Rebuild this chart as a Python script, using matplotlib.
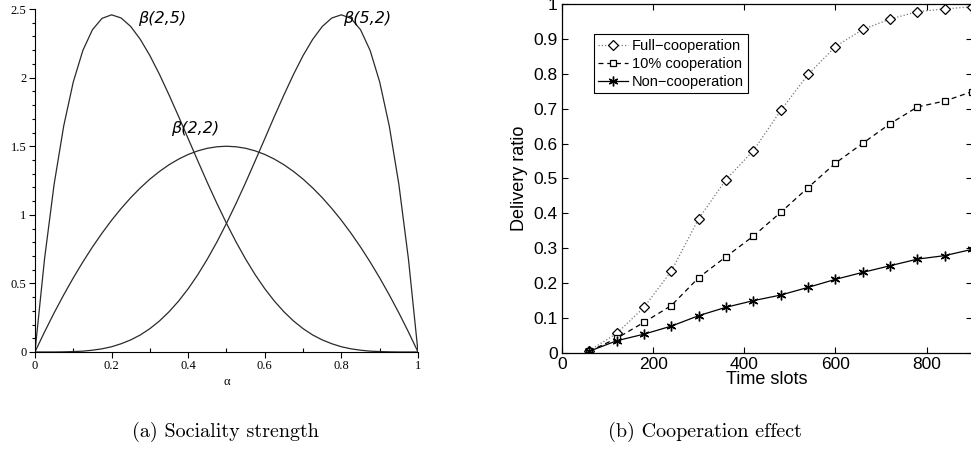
import matplotlib
matplotlib.use("Agg")

import matplotlib.pyplot as plt


# left panel: beta densities
alpha = [
    0.0, 0.025, 0.05, 0.075, 0.1, 0.125, 0.15, 0.175, 0.2, 0.225,
    0.25, 0.275, 0.3, 0.325, 0.35, 0.375, 0.4, 0.425, 0.45, 0.475,
    0.5, 0.525, 0.55, 0.575, 0.6, 0.625, 0.65, 0.675, 0.7, 0.725,
    0.75, 0.775, 0.8, 0.825, 0.85, 0.875, 0.9, 0.925, 0.95, 0.975, 1.0
]
beta_2_5 = [
    0.0, 0.678, 1.222, 1.647, 1.968, 2.198, 2.349, 2.432, 2.458, 2.435,
    2.373, 2.279, 2.161, 2.024, 1.874, 1.717, 1.555, 1.394, 1.235, 1.083,
    0.938, 0.802, 0.677, 0.563, 0.461, 0.371, 0.293, 0.226, 0.170, 0.124,
    0.088, 0.060, 0.038, 0.023, 0.013, 0.006, 0.003, 0.001, 0.0, 0.0, 0.0
]
beta_5_2 = [
    0.0, 0.0, 0.0, 0.001, 0.003, 0.006, 0.013, 0.023, 0.038, 0.060,
    0.088, 0.124, 0.170, 0.226, 0.293, 0.371, 0.461, 0.563, 0.677, 0.802,
    0.938, 1.083, 1.235, 1.394, 1.555, 1.717, 1.874, 2.024, 2.161, 2.279,
    2.373, 2.435, 2.458, 2.432, 2.349, 2.198, 1.968, 1.647, 1.222, 0.678, 0.0
]
beta_2_2 = [
    0.0, 0.146, 0.285, 0.416, 0.540, 0.656, 0.765, 0.866, 0.960, 1.046,
    1.125, 1.196, 1.260, 1.316, 1.365, 1.406, 1.440, 1.466, 1.485, 1.496,
    1.500, 1.496, 1.485, 1.466, 1.440, 1.406, 1.365, 1.316, 1.260, 1.196,
    1.125, 1.046, 0.960, 0.866, 0.765, 0.656, 0.540, 0.416, 0.285, 0.146, 0.0
]

# right panel: delivery ratio vs time slots
time_slots = [60, 120, 180, 240, 300, 360, 420, 480, 540, 600, 660, 720, 780, 840, 900]
full_coop = [0.007, 0.056, 0.131, 0.235, 0.385, 0.497, 0.580, 0.695, 0.798, 0.878,
             0.927, 0.957, 0.978, 0.986, 0.992]
ten_coop = [0.005, 0.042, 0.088, 0.136, 0.216, 0.276, 0.335, 0.403, 0.474, 0.544,
            0.601, 0.657, 0.705, 0.722, 0.749]
non_coop = [0.005, 0.035, 0.054, 0.077, 0.107, 0.131, 0.150, 0.166, 0.188, 0.211,
            0.231, 0.250, 0.269, 0.279, 0.297]

fig = plt.figure(figsize=(9.71, 4.53), dpi=100)

# ---- left: sociality strength (Maple style) ----
ax1 = fig.add_axes([0.036, 0.223, 0.3945, 0.757])
for ys in (beta_2_5, beta_5_2, beta_2_2):
    ax1.plot(alpha, ys, color="#2a2a2a", linewidth=0.9)
ax1.set_xlim(0, 1)
ax1.set_ylim(0, 2.5)
ax1.spines["top"].set_visible(False)
ax1.spines["right"].set_visible(False)
ax1.set_xticks([0, 0.2, 0.4, 0.6, 0.8, 1])
ax1.set_xticklabels(["0", "0.2", "0.4", "0.6", "0.8", "1"])
ax1.set_yticks([0, 0.5, 1, 1.5, 2, 2.5])
ax1.set_yticklabels(["0", "0.5", "1", "1.5", "2", "2.5"])
ax1.set_xticks([0.1, 0.3, 0.5, 0.7, 0.9], minor=True)
ax1.set_yticks([v / 10 for v in range(26) if v % 5], minor=True)
ax1.tick_params(axis="both", which="major", length=4, width=0.8,
                labelsize=9, pad=2)
ax1.tick_params(axis="x", which="minor", direction="in", length=3, width=0.8)
ax1.tick_params(axis="y", which="minor", direction="out", length=2.5, width=0.8)
for lab in ax1.get_xticklabels() + ax1.get_yticklabels():
    lab.set_family("Liberation Serif")
ax1.set_xlabel("α", fontsize=9, family="Liberation Serif", labelpad=3)

ax1.text(0.27, 2.43, "β(2,5)", fontsize=11.5, style="italic", va="center")
ax1.text(0.805, 2.43, "β(5,2)", fontsize=11.5, style="italic", va="center")
ax1.text(0.355, 1.63, "β(2,2)", fontsize=11.5, style="italic", va="center")

# ---- right: cooperation effect (MATLAB style) ----
ax2 = fig.add_axes([0.5788, 0.2208, 0.4224, 0.7704])
ax2.plot(time_slots, full_coop, linestyle=":", color="#777777", linewidth=0.9,
         marker="D", markersize=5.5, markerfacecolor="white",
         markeredgecolor="black", markeredgewidth=0.9, label="Full\u2212cooperation")
ax2.plot(time_slots, ten_coop, linestyle="--", color="black", linewidth=0.9,
         dashes=(4, 3), marker="s", markersize=4.5, markerfacecolor="white",
         markeredgecolor="black", markeredgewidth=0.9, label="10% cooperation")
ax2.plot(time_slots, non_coop, linestyle="-", color="black", linewidth=0.9,
         marker=(6, 2, 0), markersize=7, markeredgewidth=1.0,
         label="Non\u2212cooperation")
ax2.set_xlim(0, 900)
ax2.set_ylim(0, 1)
ax2.set_xticks([0, 200, 400, 600, 800])
ax2.set_yticks([i / 10 for i in range(11)])
ax2.set_yticklabels(["0", "0.1", "0.2", "0.3", "0.4", "0.5", "0.6", "0.7",
                     "0.8", "0.9", "1"])
ax2.tick_params(direction="in", length=4, width=0.8, top=True, right=True,
                labelsize=12.5, pad=3)
for sp in ax2.spines.values():
    sp.set_linewidth(0.9)
for lab in ax2.get_xticklabels() + ax2.get_yticklabels():
    lab.set_family("Liberation Sans")
ax2.set_xlabel("Time slots", fontsize=13, family="Liberation Sans", labelpad=-1)
ax2.set_ylabel("Delivery ratio", fontsize=13, family="Liberation Sans", labelpad=4)

leg = ax2.legend(loc="upper left", bbox_to_anchor=(0.078, 0.913), fancybox=False,
                 edgecolor="black", framealpha=1, borderpad=0.3,
                 handlelength=2.0, handletextpad=0.3, labelspacing=0.28,
                 borderaxespad=0, prop={"family": "Liberation Sans", "size": 10.5})
leg.get_frame().set_linewidth(0.8)

# captions
fig.text(0.232, 0.035, "(a) Sociality strength", fontsize=14.5, family="cmr10",
         ha="center", va="baseline")
fig.text(0.726, 0.035, "(b) Cooperation effect", fontsize=14.5, family="cmr10",
         ha="center", va="baseline")

fig.savefig("out.png", dpi=100)
plt.close(fig)
